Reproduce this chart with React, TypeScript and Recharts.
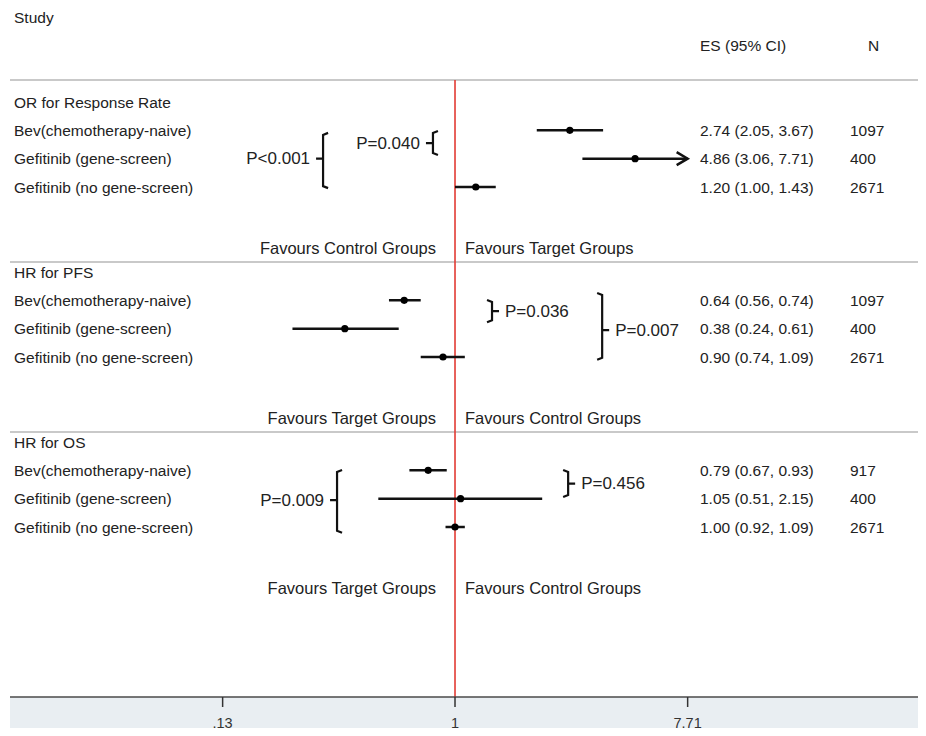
import { ComposedChart, ReferenceLine, Scatter, XAxis, YAxis } from 'recharts';

const sections = ['OR for Response Rate', 'HR for PFS', 'HR for OS'];
const studies = ['Bev(chemotherapy-naive)', 'Gefitinib (gene-screen)', 'Gefitinib (no gene-screen)'];
const esValues = [
  [2.74, 4.86, 1.2],
  [0.64, 0.38, 0.9],
  [0.79, 1.05, 1.0],
];
const ciLow = [
  [2.05, 3.06, 1.0],
  [0.56, 0.24, 0.74],
  [0.67, 0.51, 0.92],
];
const ciHigh = [
  [3.67, 7.71, 1.43],
  [0.74, 0.61, 1.09],
  [0.93, 2.15, 1.09],
];
const sampleN = [
  [1097, 400, 2671],
  [1097, 400, 2671],
  [917, 400, 2671],
];
const favoursLeft = ['Favours Control Groups', 'Favours Target Groups', 'Favours Target Groups'];
const favoursRight = ['Favours Target Groups', 'Favours Control Groups', 'Favours Control Groups'];
const pLabels = ['P<0.001', 'P=0.040', 'P=0.036', 'P=0.007', 'P=0.009', 'P=0.456'];
const xTicks = [0.13, 1, 7.71];

// bracket placement (x in axis units, rows in row units)
const bracketLayout = [
  { x: 0.314, from: 4.09, to: 6.04, mid: 5, side: 'left' },
  { x: 0.824, from: 4.02, to: 4.87, mid: 4.45, side: 'left' },
  { x: 1.384, from: 9.99, to: 10.77, mid: 10.38, side: 'right' },
  { x: 3.64, from: 9.74, to: 12.1, mid: 11.05, side: 'right' },
  { x: 0.355, from: 15.99, to: 18.2, mid: 17.05, side: 'left' },
  { x: 2.7, from: 15.99, to: 16.94, mid: 16.47, side: 'right' },
];

const FONT = '"Liberation Sans", Arial, sans-serif';
const TEXT = '#222';
const xMax = xTicks[xTicks.length - 1];

const studyRows = sections.flatMap((_, s) =>
  studies.map((name, i) => ({
    x: esValues[s][i],
    y: 4 + 6 * s + i,
    name,
    lo: ciLow[s][i],
    hi: ciHigh[s][i],
    n: sampleN[s][i],
  })),
);
const headerRows = [
  { x: 1, y: 0, text: 'Study', px: 14 },
  { x: 1, y: 1, text: 'ES (95% CI)', px: 700 },
  { x: 1, y: 1, text: 'N', px: 868 },
  ...sections.map((t, s) => ({ x: 1, y: 3 + 6 * s, text: t, px: 14 })),
];
const favourRows = sections.map((_, s) => ({ x: 1, y: 8.15 + 6 * s, left: favoursLeft[s], right: favoursRight[s] }));
const separatorRows = sections.map((_, s) => (s === 0 ? 2.22 : 2.65 + 6 * s));

function StudyShape(p: any) {
  const { cx, cy, payload } = p;
  return (
    <g fontFamily={FONT} fontSize={15.5} fill={TEXT}>
      <circle cx={cx} cy={cy} r={3.6} fill="#000" />
      <text x={14} y={cy} dominantBaseline="central">{payload.name}</text>
      <text x={700} y={cy} dominantBaseline="central">
        {`${payload.x.toFixed(2)} (${payload.lo.toFixed(2)}, ${payload.hi.toFixed(2)})`}
      </text>
      <text x={850} y={cy} dominantBaseline="central">{payload.n}</text>
    </g>
  );
}

function HeaderShape(p: any) {
  const { cy, payload } = p;
  return (
    <text x={payload.px} y={cy} dominantBaseline="central" fontFamily={FONT} fontSize={15.5} fill={TEXT}>
      {payload.text}
    </text>
  );
}

function FavourShape(p: any) {
  const { cx, cy, payload } = p;
  return (
    <g fontFamily={FONT} fontSize={16.5} fill={TEXT}>
      <text x={cx - 19} y={cy} textAnchor="end" dominantBaseline="central">{payload.left}</text>
      <text x={cx + 10} y={cy} dominantBaseline="central">{payload.right}</text>
    </g>
  );
}

function CiShape(p: any) {
  const { x1, y1, x2, y2, arrow } = p;
  return (
    <g stroke="#111" strokeWidth={2.5} fill="none">
      <line x1={x1} y1={y1} x2={x2} y2={y2} />
      {arrow && <path d={`M${x2 - 11},${y2 - 6.5} L${x2},${y2} L${x2 - 11},${y2 + 6.5}`} />}
    </g>
  );
}

function BracketShape(p: any) {
  const { x1, y1, y2, b, label } = p;
  const ym = y1 + ((y2 - y1) * (b.mid - b.from)) / (b.to - b.from);
  const dir = b.side === 'left' ? 1 : -1;
  const serif = 5 * dir;
  const tick = -7 * dir;
  return (
    <g>
      <path
        d={`M${x1 + serif},${y1} L${x1},${y1 + 2} L${x1},${y2 - 2} L${x1 + serif},${y2} M${x1},${ym} L${x1 + tick},${ym}`}
        stroke="#111"
        strokeWidth={2.2}
        fill="none"
      />
      <text
        x={x1 + (b.side === 'left' ? -13 : 13)}
        y={ym}
        textAnchor={b.side === 'left' ? 'end' : 'start'}
        dominantBaseline="central"
        fontFamily={FONT}
        fontSize={17}
        fill={TEXT}
      >
        {label}
      </text>
    </g>
  );
}

export default function App() {
  return (
    <div style={{ margin: -8, position: 'relative', width: 926, height: 736, background: '#fff' }}>
      <div style={{ position: 'absolute', left: 10, top: 697, width: 916, height: 39, background: '#e9eef2' }} />
      <ComposedChart width={926} height={736} margin={{ top: 0, right: 0, bottom: 0, left: 10 }}>
        <XAxis
          type="number"
          dataKey="x"
          scale="log"
          domain={[0.0201, 62.5]}
          allowDataOverflow
          ticks={xTicks}
          tickFormatter={(v: number) => (v < 1 ? String(v).replace(/^0/, '') : String(v))}
          height={39}
          axisLine={{ stroke: '#4a4a4a', strokeWidth: 1.5 }}
          tickLine={{ stroke: '#333', strokeWidth: 1.5 }}
          tickSize={10}
          tickMargin={11}
          tick={{ fill: '#333', fontSize: 14.5, fontFamily: FONT }}
        />
        <YAxis type="number" dataKey="y" domain={[-0.6, 24]} reversed hide allowDataOverflow />
        {separatorRows.map((r, i) => (
          <ReferenceLine key={`sep${i}`} y={r} stroke="#c9c9c9" strokeWidth={2} />
        ))}
        <ReferenceLine
          segment={[
            { x: 1, y: separatorRows[0] },
            { x: 1, y: 24 },
          ]}
          stroke="#e23b33"
          strokeWidth={1.6}
        />
        {studyRows.map((r, i) => (
          <ReferenceLine
            key={`ci${i}`}
            segment={[
              { x: r.lo, y: r.y },
              { x: r.hi, y: r.y },
            ]}
            shape={(p: any) => <CiShape {...p} arrow={r.hi >= xMax} />}
          />
        ))}
        {bracketLayout.map((b, i) => (
          <ReferenceLine
            key={`br${i}`}
            segment={[
              { x: b.x, y: b.from },
              { x: b.x, y: b.to },
            ]}
            shape={(p: any) => <BracketShape {...p} b={b} label={pLabels[i]} />}
          />
        ))}
        <Scatter data={headerRows} dataKey="y" shape={HeaderShape} isAnimationActive={false} />
        <Scatter data={favourRows} dataKey="y" shape={FavourShape} isAnimationActive={false} />
        <Scatter data={studyRows} dataKey="y" shape={StudyShape} isAnimationActive={false} />
      </ComposedChart>
    </div>
  );
}
